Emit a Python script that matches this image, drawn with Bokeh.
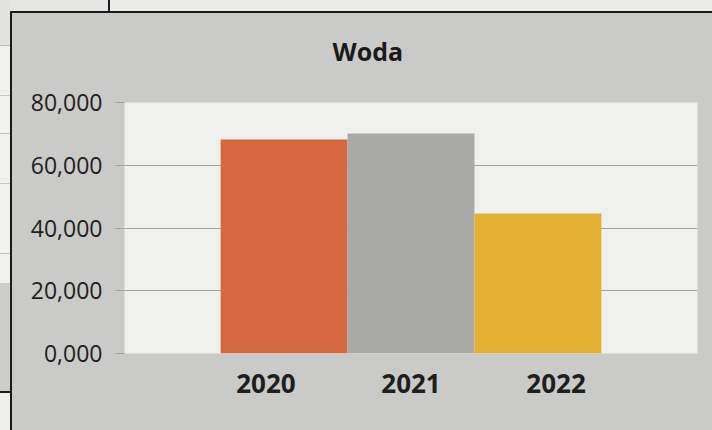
from bokeh.plotting import figure
from bokeh.models import FactorRange, Range1d, FixedTicker, Title, Spacer, CategoricalAxis
from bokeh.layouts import column, row
from bokeh.embed import file_html
from bokeh.resources import INLINE

years = ["2020", "2021", "2022"]
values = [68.2, 70.1, 44.6]
bar_colors = ["#d5693f", "#a9a9a7", "#e3b132"]
y_ticks = [0, 20, 40, 60, 80]
y_tick_labels = ["0,000", "20,000", "40,000", "60,000", "80,000"]
title_text = "Woda"

FONT = "Open Sans"
CHART_BG = "#cacac8"

# header strip of the chart area, carrying the chart title
header = figure(
    width=700, height=62, output_backend="svg", toolbar_location=None,
    x_axis_type=None, y_axis_type=None,
    min_border_left=0, min_border_right=0, min_border_top=59, min_border_bottom=0,
)
header.background_fill_color = CHART_BG
header.border_fill_color = CHART_BG
header.outline_line_color = None
header.grid.visible = False
header.title = Title(text=title_text, align="left", offset=208, standoff=10,
                     text_font=FONT, text_font_size="25px", text_font_style="bold",
                     text_color="#1a1a1a")

p = figure(
    width=700, height=355,
    x_range=FactorRange(factors=years, range_padding=0.505),
    y_range=Range1d(0, 80),
    output_backend="svg", toolbar_location=None,
    min_border_left=112, min_border_right=15, min_border_top=27, min_border_bottom=77,
)

p.background_fill_color = "#f0f0ee"
p.border_fill_color = CHART_BG
p.outline_line_color = None

p.vbar(x=years, top=values, width=1.0, fill_color=bar_colors, line_color=None)

p.yaxis.ticker = FixedTicker(ticks=y_ticks)
p.yaxis.major_label_overrides = {v: s for v, s in zip(y_ticks, y_tick_labels)}
p.yaxis.axis_line_color = None
p.yaxis.major_tick_out = 9
p.yaxis.major_tick_in = 0
p.yaxis.major_tick_line_color = "#a0a0a0"
p.yaxis.minor_tick_line_color = None
p.yaxis.major_label_standoff = 13
p.yaxis.major_label_text_font = FONT
p.yaxis.major_label_text_font_size = "23px"
p.yaxis.major_label_text_color = "#1e1e1e"

# category labels sit on their own (slightly wider-spaced) scale, as in the original
p.xaxis.visible = False
p.extra_x_ranges = {"labels": FactorRange(factors=years, range_padding=0.317)}
lab_axis = CategoricalAxis(x_range_name="labels")
lab_axis.axis_line_color = None
lab_axis.major_tick_line_color = None
lab_axis.minor_tick_line_color = None
lab_axis.major_label_standoff = 14
lab_axis.major_label_text_font = FONT
lab_axis.major_label_text_font_size = "26px"
lab_axis.major_label_text_font_style = "bold"
lab_axis.major_label_text_color = "#1e1e1e"
p.add_layout(lab_axis, "below")

p.xgrid.grid_line_color = None
p.ygrid.grid_line_color = "#a3a3a3"
p.ygrid.grid_line_width = 1

BLACK = "#1a1a1a"

def blk(w, h, c):
    return Spacer(width=w, height=h, styles={"background-color": c})

# surrounding spreadsheet fragments from the scanned page
left_col = column(
    blk(10, 45, "#e2e2e0"), blk(10, 1, "#b8b8b6"),
    blk(10, 49, "#f1f1ef"), blk(10, 1, "#c4c4c2"),
    blk(10, 37, "#f1f1ef"), blk(10, 1, "#c4c4c2"),
    blk(10, 49, "#f1f1ef"), blk(10, 1, "#c4c4c2"),
    blk(10, 69, "#f1f1ef"), blk(10, 1, "#c4c4c2"),
    blk(10, 29, "#f1f1ef"),
    blk(10, 108, "#cdcdcb"), blk(10, 2, BLACK),
    blk(10, 37, "#efefed"),
    spacing=0,
)
top_strip = row(blk(98, 11, "#e6e6e4"), blk(2, 11, BLACK), blk(602, 11, "#ececea"), spacing=0)
chart_box = column(header, p, spacing=0, styles={"background-color": CHART_BG})
right_part = column(
    top_strip,
    blk(702, 2, BLACK),
    row(blk(2, 417, BLACK), chart_box, spacing=0),
    spacing=0,
)
layout = row(left_col, right_part, spacing=0)

open("out.html", "w").write(file_html(layout, INLINE))
